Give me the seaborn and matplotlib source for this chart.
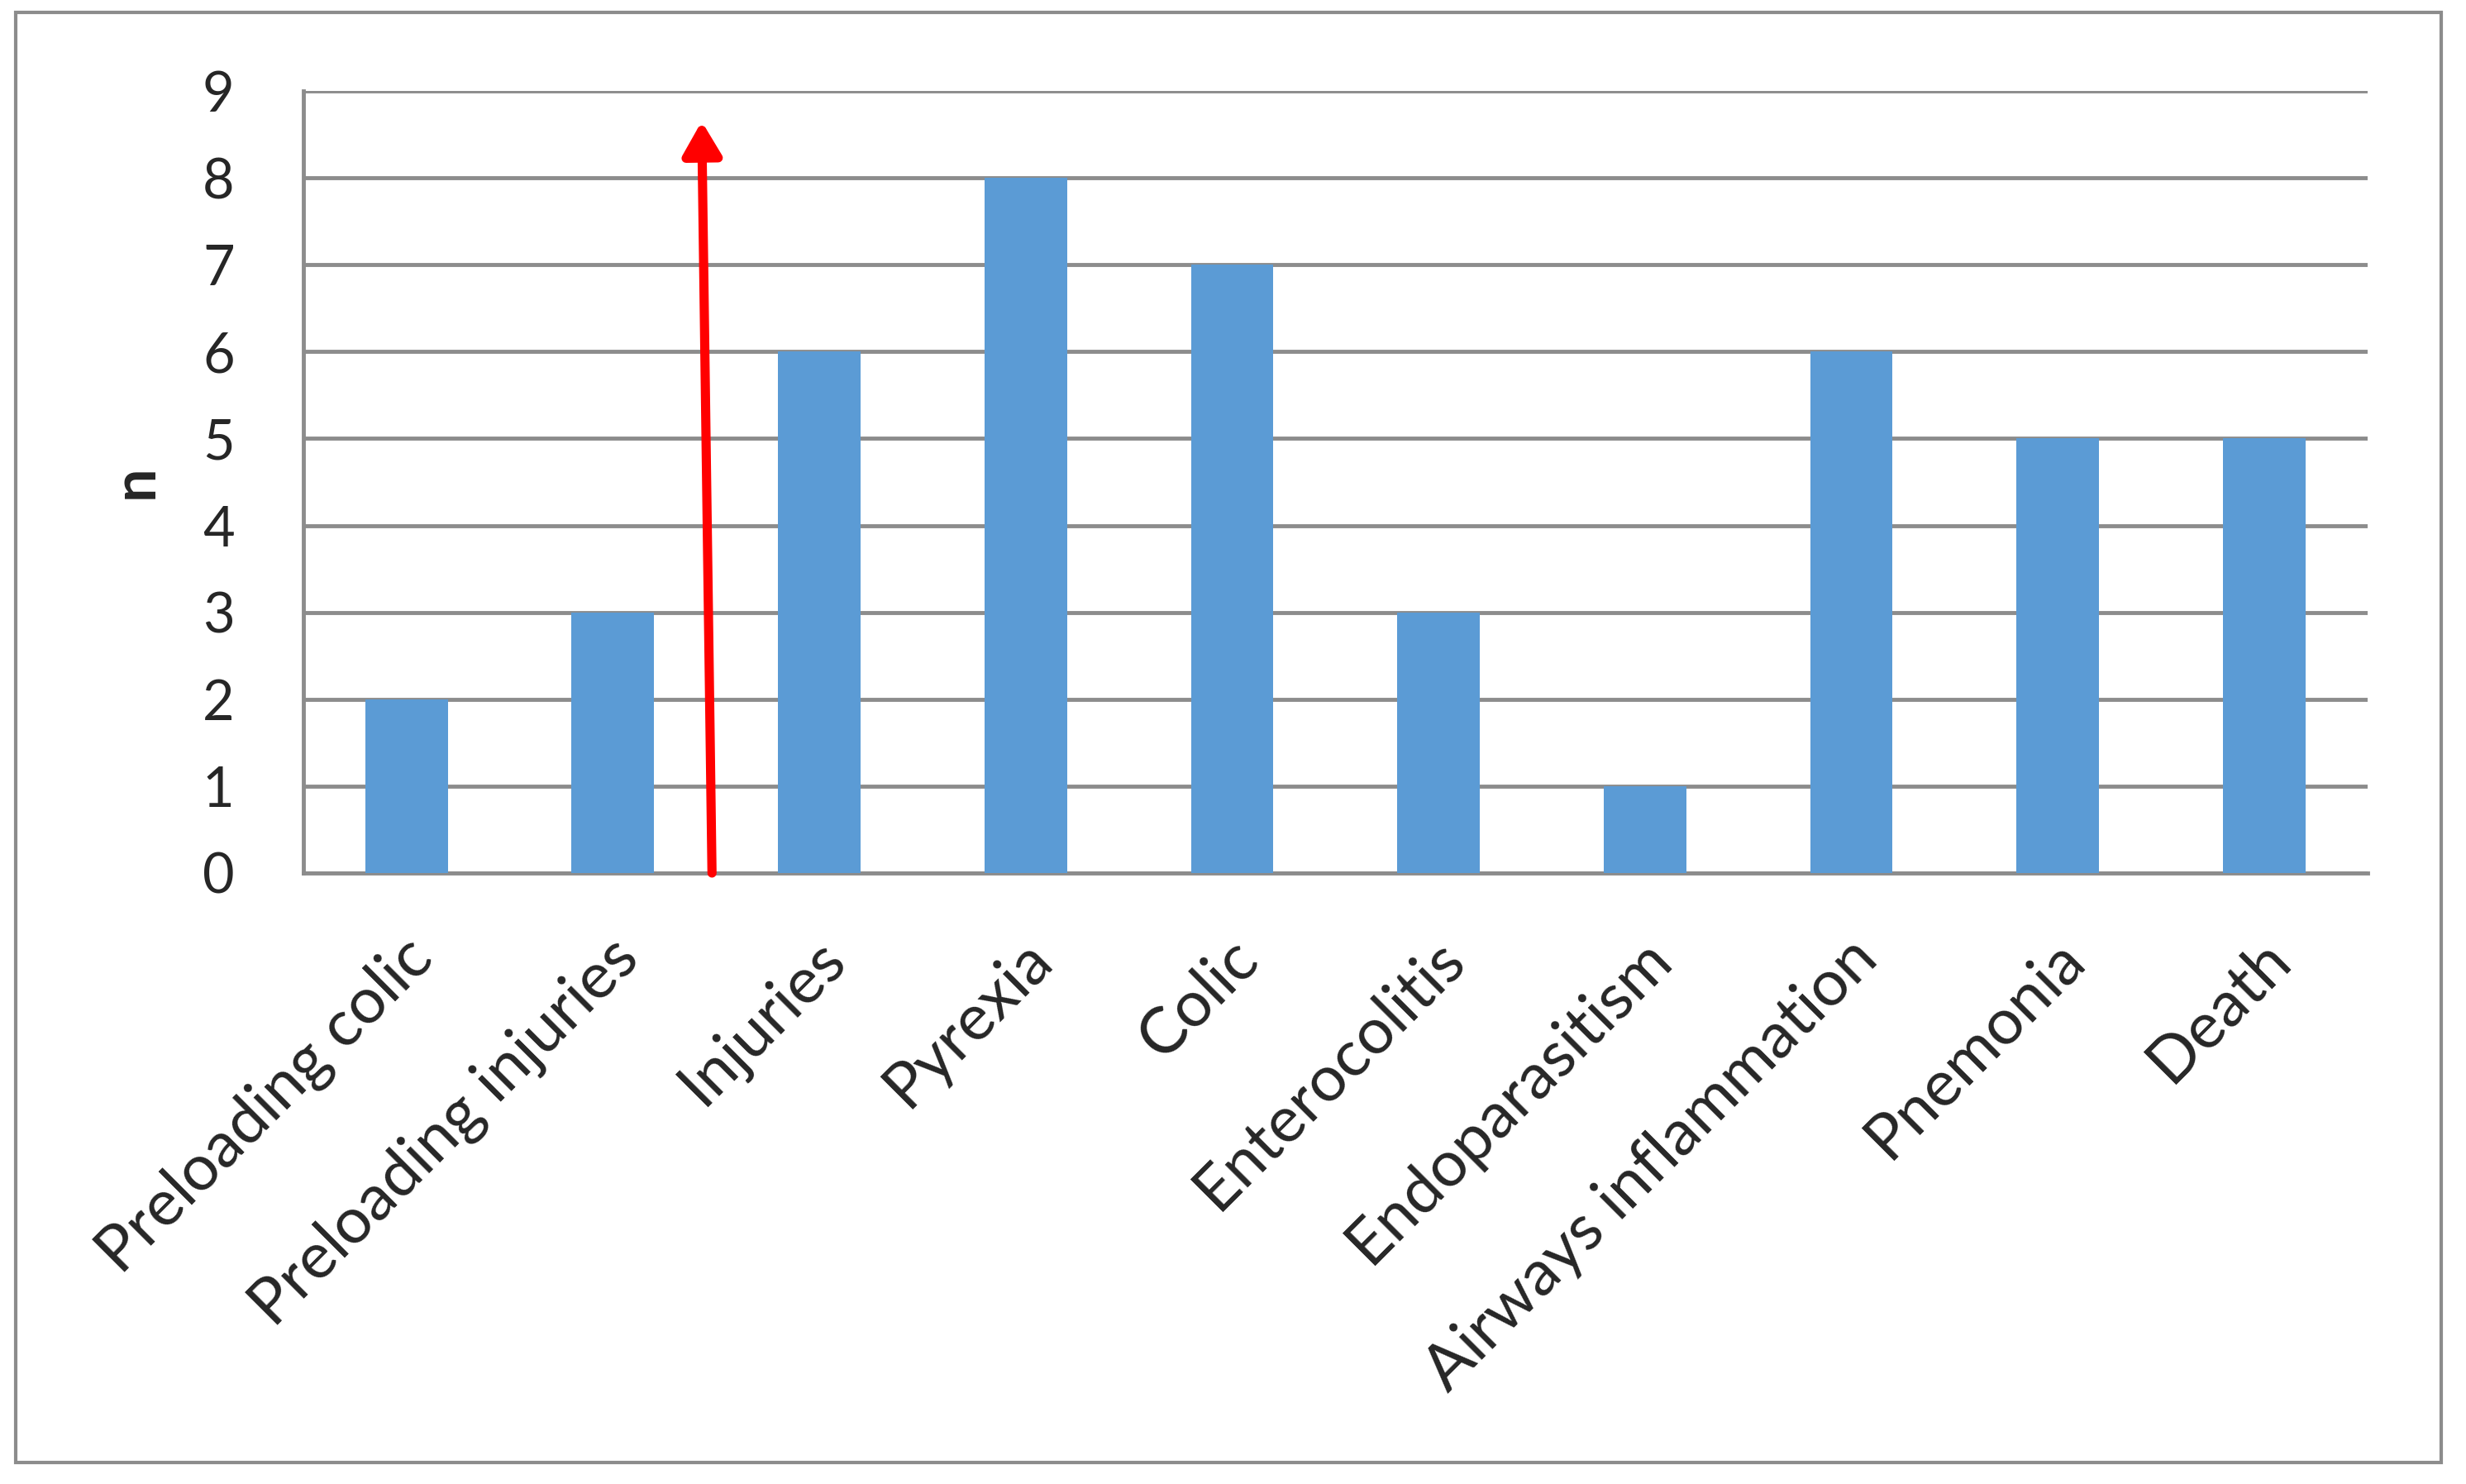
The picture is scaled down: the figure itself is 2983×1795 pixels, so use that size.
import numpy as np
import matplotlib
matplotlib.use("Agg")
import matplotlib.pyplot as plt
import matplotlib.transforms as mtransforms
from matplotlib.patches import Rectangle
import pandas as pd
import seaborn as sns

categories = ['Preloading colic', 'Preloading injuries', 'Injuries', 'Pyrexia', 'Colic',
              'Enterocolitis', 'Endoparasitism', 'Airways inflammation', 'Pnemonia', 'Death']
counts = [2, 3, 6, 8, 7, 3, 1, 6, 5, 5]
y_ticks = [0, 1, 2, 3, 4, 5, 6, 7, 8, 9]

# red arrow drawn between "Preloading injuries" and "Injuries"
arrow_start = (1.48, 0.0)
arrow_end = (1.43, 8.65)

df = pd.DataFrame({'cat': categories, 'n': counts})

sns.set_style("white")
plt.rcParams['font.family'] = ['Lato', 'DejaVu Sans']

fig = plt.figure(figsize=(29.83, 17.95), dpi=100)
ax = fig.add_axes([0.123, 0.4117, 0.837, 0.527])

sns.barplot(data=df, x='cat', y='n', color='#5B9BD5', width=0.4, saturation=1,
            linewidth=0, ax=ax, zorder=3)

ax.set_ylim(0, 9)
ax.set_xlim(-0.5, len(categories) - 0.5)
ax.set_yticks(y_ticks)
ax.yaxis.grid(True, color='#8C8C8C', linewidth=3.5, zorder=0)
ax.set_axisbelow(True)
for s in ['top', 'right']:
    ax.spines[s].set_visible(False)
for s in ['left', 'bottom']:
    ax.spines[s].set_color('#8C8C8C')
    ax.spines[s].set_linewidth(3.5)

ax.tick_params(axis='y', length=0, pad=60, labelsize=48)
ax.tick_params(axis='x', length=0, pad=66, labelsize=56)
ax.set_xlabel('')
ax.set_ylabel('n', fontsize=52, fontweight='bold', labelpad=34)

offset = mtransforms.ScaledTranslation(0.2, 0, fig.dpi_scale_trans)
for lab in ax.get_xticklabels():
    lab.set_rotation(45)
    lab.set_ha('right')
    lab.set_va('center')
    lab.set_rotation_mode('anchor')
    lab.set_transform(lab.get_transform() + offset)

ax.annotate('', xy=arrow_end, xytext=arrow_start,
            arrowprops=dict(arrowstyle='-|>,head_length=2.4,head_width=1.4',
                            color='red', lw=8, shrinkA=0, shrinkB=0),
            zorder=5)

# outer chart border
fig.patches.append(Rectangle((0.0064, 0.0145), 0.9836, 0.977, transform=fig.transFigure,
                             fill=False, edgecolor='#8C8C8C', linewidth=3))

fig.savefig('out.png', dpi=100)
